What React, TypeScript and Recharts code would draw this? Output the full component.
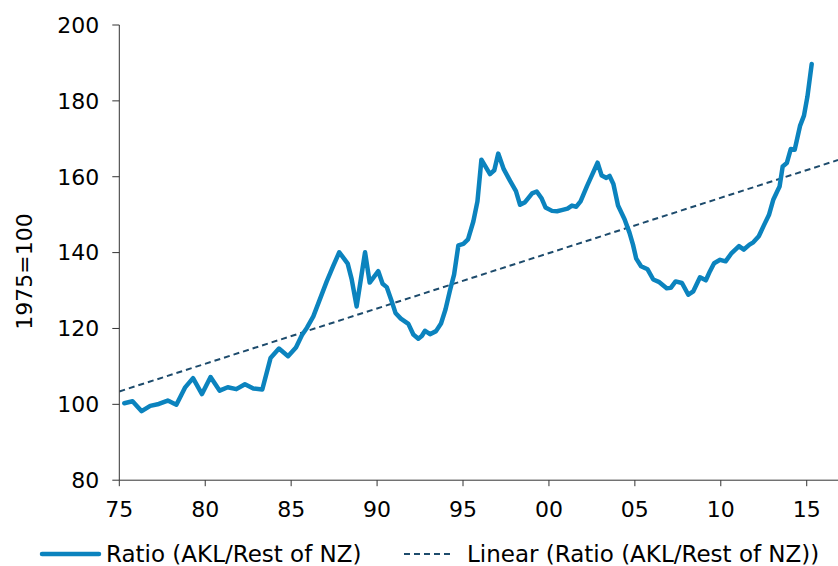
import React from 'react';
import { LineChart, Line, XAxis, YAxis, Legend } from 'recharts';

// Quarterly-ish readings of the AKL / Rest of NZ ratio (1975=100)
const dates = [
  1975.29, 1975.77, 1976.30, 1976.80, 1977.30, 1977.82, 1978.32, 1978.82, 1979.29, 1979.81,
  1980.31, 1980.84, 1981.31, 1981.81, 1982.31, 1982.80, 1983.32, 1983.80, 1984.29, 1984.82,
  1985.28, 1985.63, 1985.92, 1986.29, 1986.68, 1987.07, 1987.45, 1987.80, 1988.29, 1988.52,
  1988.81, 1989.30, 1989.57, 1990.07, 1990.32, 1990.56, 1990.85, 1991.07, 1991.38, 1991.82,
  1992.11, 1992.40, 1992.60, 1992.79, 1993.08, 1993.43, 1993.72, 1993.98, 1994.24, 1994.48,
  1994.73, 1995.02, 1995.29, 1995.60, 1995.84, 1996.07, 1996.57, 1996.82, 1997.05, 1997.37,
  1997.74, 1998.08, 1998.32, 1998.61, 1999.02, 1999.29, 1999.56, 1999.80, 2000.18, 2000.47,
  2000.74, 2001.08, 2001.34, 2001.59, 2001.84, 2002.22, 2002.49, 2002.83, 2003.07, 2003.34,
  2003.53, 2003.75, 2004.02, 2004.40, 2004.69, 2004.89, 2005.08, 2005.36, 2005.74, 2006.07,
  2006.39, 2006.85, 2007.09, 2007.37, 2007.74, 2008.11, 2008.40, 2008.79, 2009.13, 2009.37,
  2009.61, 2009.96, 2010.28, 2010.60, 2011.06, 2011.34, 2011.67, 2011.89, 2012.21, 2012.52,
  2012.80, 2013.06, 2013.30, 2013.42, 2013.60, 2013.84, 2014.07, 2014.30, 2014.61, 2014.84,
  2015.04, 2015.29,
];

const ratio = [
  100.3, 100.8, 98.2, 99.6, 100.1, 101.0, 99.9, 104.4, 106.9, 102.7,
  107.2, 103.6, 104.5, 104.0, 105.3, 104.2, 103.9, 112.2, 114.7, 112.7,
  115.0, 118.3, 120.2, 123.2, 127.8, 132.4, 136.5, 140.1, 137.1, 133.0,
  125.8, 140.1, 132.1, 135.1, 131.8, 130.9, 127.2, 124.1, 122.6, 121.2,
  118.4, 117.3, 118.0, 119.4, 118.5, 119.3, 121.3, 125.0, 130.0, 134.2,
  141.9, 142.3, 143.5, 148.2, 153.5, 164.5, 160.7, 161.7, 166.1, 162.0,
  158.9, 156.2, 152.6, 153.3, 155.6, 156.1, 154.4, 151.9, 151.0, 150.9,
  151.2, 151.6, 152.4, 152.1, 153.5, 157.6, 160.3, 163.7, 160.3, 159.7,
  160.2, 158.1, 152.4, 148.8, 145.2, 142.1, 138.4, 136.4, 135.6, 132.9,
  132.3, 130.6, 130.7, 132.4, 132.0, 128.9, 129.8, 133.5, 132.7, 135.1,
  137.2, 138.1, 137.7, 139.7, 141.7, 140.8, 142.1, 142.7, 144.3, 147.3,
  149.9, 154.0, 156.3, 157.4, 162.7, 163.6, 167.3, 167.1, 173.4, 176.1,
  181.1, 189.7,
];

// Linear trend end points
const trendDates = [1975, 2016.82];
const trendValues = [103.4, 164.4];

const xTicks = [1975, 1980, 1985, 1990, 1995, 2000, 2005, 2010, 2015];
const xTickLabels = ['75', '80', '85', '90', '95', '00', '05', '10', '15'];
const yTicks = [80, 100, 120, 140, 160, 180, 200];

const seriesNames = ['Ratio (AKL/Rest of NZ)', 'Linear (Ratio (AKL/Rest of NZ))'];

const ratioData = dates.map((d, i) => ({ date: d, ratio: ratio[i] }));
const trendData = trendDates.map((d, i) => ({ date: d, trend: trendValues[i] }));

const BLUE = '#0b83be';
const NAVY = '#1d4b6c';
const FONT = "'DejaVu Sans', Verdana, sans-serif";
const FS = 22;
const LFS = 23;

function LegendContent() {
  return (
    <svg width={838} height={31} style={{ display: 'block' }}>
      <line x1={42} x2={99} y1={19} y2={19} stroke={BLUE} strokeWidth={4.5} strokeLinecap="round" />
      <text x={106} y={26.5} fontSize={LFS} fontFamily={FONT} fill="#000">{seriesNames[0]}</text>
      <line x1={404} x2={454} y1={19} y2={19} stroke={NAVY} strokeWidth={2} strokeDasharray="6 4" />
      <text x={467} y={26.5} fontSize={LFS} fontFamily={FONT} fill="#000">{seriesNames[1]}</text>
    </svg>
  );
}

function YLabel() {
  return (
    <text
      x={32}
      y={271.5}
      transform="rotate(-90, 32, 271.5)"
      textAnchor="middle"
      fontSize={FS}
      fontFamily={FONT}
      fill="#000"
    >
      1975=100
    </text>
  );
}

export default function App() {
  return (
    <div style={{ position: 'absolute', left: 0, top: 0, width: 838, height: 566, background: '#fff' }}>
      <LineChart
        width={838}
        height={566}
        margin={{ top: 25, right: 0, left: 0, bottom: 0 }}
        style={{ fontFamily: FONT }}
      >
        <XAxis
          type="number"
          dataKey="date"
          domain={[1975, 2016.82]}
          allowDataOverflow
          ticks={xTicks}
          interval={0}
          tickFormatter={(v: number) => xTickLabels[xTicks.indexOf(v)]}
          height={54.8}
          tickSize={6}
          tickMargin={15}
          stroke="#333"
          tick={{ fontSize: FS, fill: '#000', fontFamily: FONT }}
        />
        <YAxis
          type="number"
          domain={[80, 200]}
          ticks={yTicks}
          interval={0}
          width={119.3}
          tickSize={7}
          tickMargin={13}
          stroke="#333"
          tick={{ fontSize: FS, fill: '#000', fontFamily: FONT }}
          label={<YLabel />}
        />
        <Legend
          content={<LegendContent />}
          wrapperStyle={{ position: 'absolute', top: 535, left: 0, width: 838, height: 31, margin: 0, padding: 0 }}
        />
        <Line
          data={trendData}
          dataKey="trend"
          name={seriesNames[1]}
          stroke={NAVY}
          strokeWidth={2}
          strokeDasharray="6 4"
          dot={false}
          activeDot={false}
          isAnimationActive={false}
        />
        <Line
          data={ratioData}
          dataKey="ratio"
          name={seriesNames[0]}
          stroke={BLUE}
          strokeWidth={4.5}
          strokeLinejoin="round"
          strokeLinecap="round"
          dot={false}
          activeDot={false}
          isAnimationActive={false}
        />
      </LineChart>
    </div>
  );
}
